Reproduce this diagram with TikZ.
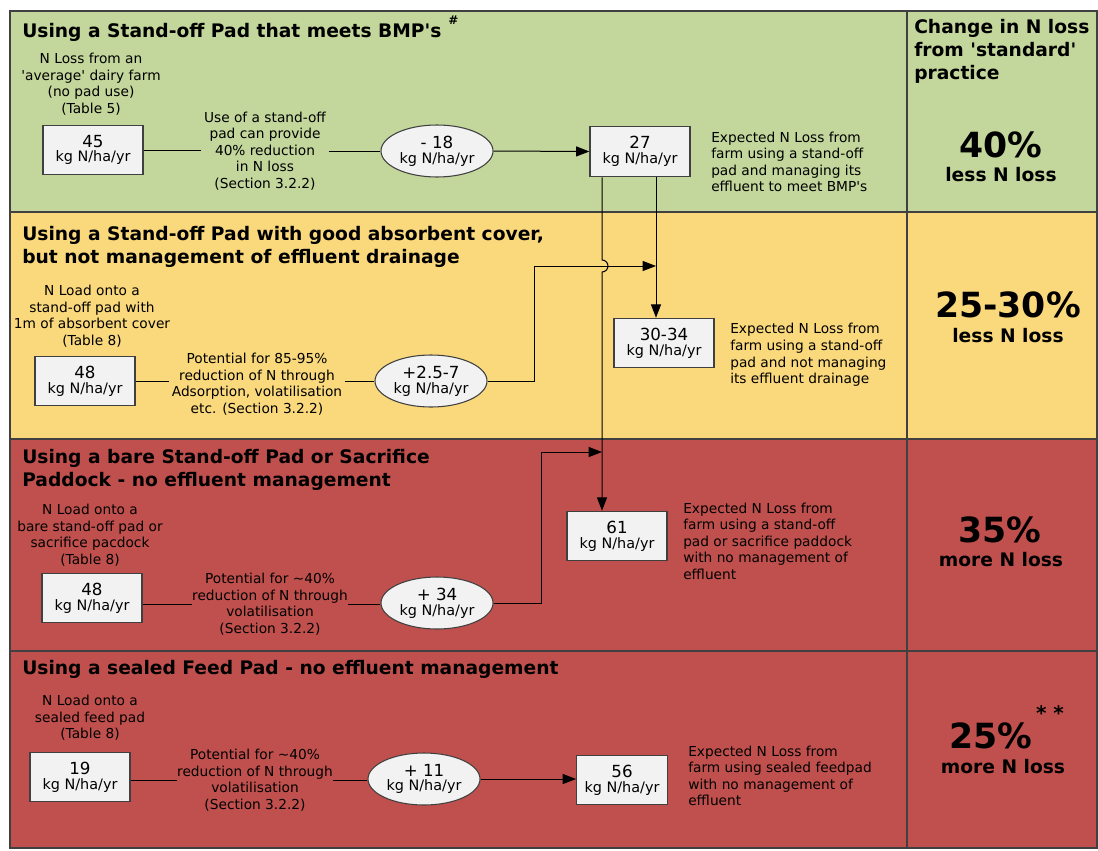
\documentclass[tikz,border=0pt]{standalone}
\usepackage{fontspec}
\newfontfamily\dv{DejaVu Sans}
\usetikzlibrary{arrows.meta,shapes.geometric,calc}
\definecolor{bandgreen}{RGB}{195,214,155}
\definecolor{bandyellow}{RGB}{250,216,124}
\definecolor{bandred}{RGB}{192,80,77}
\definecolor{boxfill}{RGB}{242,242,242}
\definecolor{edge}{RGB}{64,64,64}
\newcommand\descfont{\dv\fontsize{10.3}{12.4}\selectfont}
\newcommand\headfont{\dv\bfseries\fontsize{14}{17}\selectfont}
\newcommand\bignumfont{\dv\bfseries\fontsize{26}{28}\selectfont}
\newcommand\val[1]{{\fontsize{12.5}{14}\selectfont #1}\\[-1pt]{\fontsize{10.8}{12}\selectfont kg N/ha/yr}}
\tikzset{
  frame/.style={draw=edge, line width=1.1pt},
  valbox/.style={draw=edge, fill=boxfill, line width=0.9pt, minimum width=75pt, minimum height=37pt, inner sep=0pt, align=center, font=\dv},
  oval/.style={ellipse, draw=edge, fill=boxfill, line width=0.8pt, minimum width=84pt, minimum height=39pt, inner sep=0pt, align=center, font=\dv},
  desc/.style={align=center, font=\descfont, inner sep=2pt},
  note/.style={align=left, font=\descfont, inner sep=0pt, anchor=west},
  head/.style={font=\headfont, inner sep=0pt, align=left},
  conn/.style={line width=0.75pt, draw=black},
  arr/.style={conn, -{Triangle[length=10pt,width=7.5pt]}},
  bignum/.style={font=\bignumfont, inner sep=0pt},
  sub/.style={font=\headfont, inner sep=0pt},
}
\begin{document}
\begin{tikzpicture}[x=0.75pt,y=-0.75pt]
\useasboundingbox (0,0) rectangle (1098,850);
\fill[white] (0,0) rectangle (1098,850);
% bands
\fill[bandgreen] (10,11) rectangle (1097,212);
\fill[bandyellow] (10,212) rectangle (1097,439);
\fill[bandred] (10,439) rectangle (1097,848);
\draw[frame] (10,11) rectangle (1097,848);
\draw[frame] (10,212) -- (1097,212);
\draw[frame] (10,439) -- (1097,439);
\draw[frame] (10,651) -- (1097,651);
\draw[frame] (907,11) -- (907,848);

% helper coordinates
\coordinate (x602) at (602,0);
\coordinate (x656) at (656,0);
\coordinate (k1) at (534,0);
\coordinate (k2) at (541,0);
\coordinate (yh2) at (0,266);
\coordinate (yh3) at (0,452);
\coordinate (hop) at (602,266);

% ---------- band 1 ----------
\node[head, anchor=base west] (h1) at (22,37) {Using a Stand-off Pad that meets BMP's};
\node[font=\dv\bfseries\fontsize{9}{9}\selectfont, inner sep=0pt, anchor=west] (h1s) at (448,20) {\#};
\node[desc] (d1) at (91,84) {N Loss from an\\'average' dairy farm\\(no pad use)\\(Table 5)};
\node[valbox] (b1) at (93,150) {\val{45}};
\node[desc] (m1) at (265,151) {Use of a stand-off\\pad can provide\\40\% reduction\\in N loss\\(Section 3.2.2)};
\node[oval] (e1) at (437,151) {\val{- 18}};
\node[valbox, minimum height=38pt] (b2) at (640,151.5) {\val{27}};
\node[note] (x1) at (711,162) {Expected N Loss from\\farm using a stand-off\\pad and managing its\\effluent to meet BMP's};
\node[head, anchor=north west, align=left, font=\dv\bfseries\fontsize{14}{17.3}\selectfont] (r0) at (914,19) {Change in N loss\\from 'standard'\\practice};
\node[bignum] (r1a) at (1001,145) {40\%};
\node[sub] (r1b) at (1001,175) {less N loss};

\draw[conn] (b1.east) -- (b1.east -| m1.west);
\draw[conn] (m1.east |- e1.west) -- (e1.west);
\draw[arr] (e1.east) -- (b2.west);

% ---------- band 2 ----------
\node[head, anchor=north west] (h2) at (22,226) {Using a Stand-off Pad with good absorbent cover,\\but not management of effluent drainage};
\node[desc] (d2) at (92,316) {N Load onto a\\stand-off pad with\\1m of absorbent cover\\(Table 8)};
\node[valbox] (b3) at (85,381) {\val{48}};
\node[desc] (m2) at (257,384) {Potential for 85-95\%\\reduction of N through\\Adsorption, volatilisation\\etc. (Section 3.2.2)};
\node[oval] (e2) at (431,381) {\val{+2.5-7}};
\node[valbox] (b4) at (664,343) {\val{30-34}};
\node[note] (x2) at (730,355) {Expected N Loss from\\farm using a stand-off\\pad and not managing\\its effluent drainage};
\node[bignum] (r2a) at (1008,305) {25-30\%};
\node[sub] (r2b) at (1008,336) {less N loss};

\draw[conn] (b3.east) -- (b3.east -| m2.west);
\draw[conn] (m2.east |- e2.west) -- (e2.west);
\draw[arr] (e2.east) -- (e2.east -| k1) |- (x656 |- yh2);

% ---------- band 3 ----------
\node[head, anchor=north west] (h3) at (22,449) {Using a bare Stand-off Pad or Sacrifice\\Paddock - no effluent management};
\node[desc] (d3) at (90,535) {N Load onto a\\bare stand-off pad or\\sacrifice pacdock\\(Table 8)};
\node[valbox] (b5) at (92,598) {\val{48}};
\node[desc, inner sep=0pt] (m3) at (270,604) {Potential for \textasciitilde40\%\\reduction of N through\\volatilisation\\(Section 3.2.2)};
\node[oval] (e3) at (437,603) {\val{+ 34}};
\node[valbox] (b6) at (617,536) {\val{61}};
\node[note] (x3) at (683,541) {Expected N Loss from\\farm using a stand-off\\pad or sacrifice paddock\\with no management of\\effluent};
\node[bignum] (r3a) at (1000,530) {35\%};
\node[sub] (r3b) at (1001,560) {more N loss};

\draw[conn] (b5.east |- m3.west) -- (m3.west);
\draw[conn] (m3.east) -- (m3.east -| e3.west);
\draw[arr] (e3.east) -- (e3.east -| k2) |- (x602 |- yh3);

% ---------- band 4 ----------
\node[head, anchor=base west] (h4) at (22,674) {Using a sealed Feed Pad - no effluent management};
\node[desc] (d4) at (90,718) {N Load onto a\\sealed feed pad\\(Table 8)};
\node[valbox] (b7) at (80,777) {\val{19}};
\node[desc, inner sep=0pt] (m4) at (255,780) {Potential for \textasciitilde40\%\\reduction of N through\\volatilisation\\(Section 3.2.2)};
\node[oval] (e4) at (424,779) {\val{+ 11}};
\node[valbox, minimum width=68pt] (b8) at (622,780) {\val{56}};
\node[note] (x4) at (688,776) {Expected N Loss from\\farm using sealed feedpad\\with no management of\\effluent};
\node[bignum] (r4a) at (991,736) {25\%};
\node[font=\dv\bfseries\fontsize{15}{15}\selectfont, inner sep=0pt] (r4s) at (1050,713) {*\,\,*};
\node[sub] (r4b) at (1003,767) {more N loss};

\draw[conn] (b7.east |- m4.west) -- (m4.west);
\draw[conn] (m4.east) -- (m4.east -| e4.west);
\draw[arr] (e4.east) -- (e4.east -| b8.west);

% ---------- vertical connectors from the 27 box ----------
\draw[arr] (b2.south -| x656) -- (b4.north -| x656);
\draw[arr] (b2.south -| x602) -- ($(hop)+(0,-6)$) arc[start angle=-90, end angle=90, radius=6] -- (b6.north -| x602);
\end{tikzpicture}
\end{document}
